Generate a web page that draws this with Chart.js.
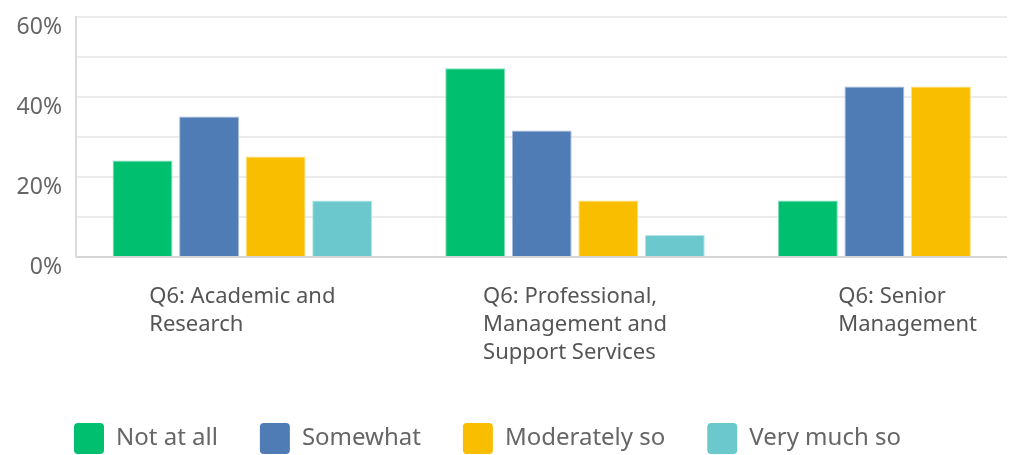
<!DOCTYPE html>
<html>
<head>
<meta charset="utf-8">
<script src="https://cdn.jsdelivr.net/npm/chart.js@4"></script>
<style>
	body { margin: 0; background: #fff; }
	#wrap { width: 1007px; height: 455px; overflow: hidden; }
</style>
</head>
<body>
<div id="wrap">
	<canvas id="q6Chart" width="1074" height="464"></canvas>
</div>
<script>
const categories = [
	['Q6: Academic and', 'Research'],
	['Q6: Professional,', 'Management and', 'Support Services'],
	['Q6: Senior', 'Management']
]
const seriesNames = ['Not at all', 'Somewhat', 'Moderately so', 'Very much so']
const notAtAll = [24.1, 47.2, 14.1]
const somewhat = [35.1, 31.6, 42.6]
const moderatelySo = [25.1, 14.1, 42.6]
const veryMuchSo = [14.1, 5.5, 0]
const yTicks = [0, 20, 40, 60]

const colors = ['#00BF6F', '#507CB6', '#F9BE00', '#6BC8CD']
const edges = ['#7fdfb7', '#a7bddb', '#fcde7f', '#b5e3e6']
const fontFamily = '"Noto Sans", "Open Sans", sans-serif'

// multi-line category labels, left aligned inside a block centred on the group
const categoryLabelPlugin = {
	id: 'categoryLabels',
	afterLayout(chart) {
		// legend starts under the plot, not at the canvas edge
		chart.legend.left += 32
	},
	afterDraw(chart) {
		const ctx = chart.ctx
		const xScale = chart.scales.x
		ctx.save()
		ctx.font = '22px ' + fontFamily
		ctx.fillStyle = '#555'
		ctx.textAlign = 'left'
		ctx.textBaseline = 'middle'
		categories.forEach((lines, i) => {
			const w = Math.max(...lines.map(l => ctx.measureText(l).width))
			const left = xScale.getPixelForValue(i) - w / 2
			lines.forEach((line, j) => {
				ctx.fillText(line, left, xScale.top + 40 + j * 28)
			})
		})
		ctx.restore()
	}
}

const seriesData = [notAtAll, somewhat, moderatelySo, veryMuchSo]

new Chart(document.getElementById('q6Chart'), {
	type: 'bar',
	data: {
		labels: categories,
		datasets: seriesNames.map((name, i) => ({
			label: name,
			data: seriesData[i],
			backgroundColor: colors[i],
			borderColor: edges[i],
			borderWidth: 1,
			categoryPercentage: 0.8,
			barPercentage: 0.9
		}))
	},
	options: {
		responsive: false,
		animation: false,
		layout: {
			padding: { top: 17, left: 0, right: 0, bottom: 0 }
		},
		scales: {
			x: {
				grid: { display: false },
				border: { display: true, color: '#d6d6d6', width: 2 },
				ticks: { display: false },
				afterFit: scale => { scale.height = 124 }
			},
			y: {
				min: 0,
				max: 60,
				grid: { color: '#ececec', lineWidth: 2, drawTicks: false },
				border: { display: true, color: '#dcdcdc', width: 2 },
				ticks: {
					stepSize: 10,
					padding: 14,
					labelOffset: 10,
					color: '#666',
					font: { family: fontFamily, size: 23 },
					callback: v => yTicks.includes(v) ? v + '%' : ''
				},
				afterFit: scale => {
					scale.width = 76
					scale.paddingTop = 0
					scale.paddingBottom = 0
				}
			}
		},
		plugins: {
			legend: {
				position: 'bottom',
				align: 'start',
				labels: {
					boxWidth: 30,
					boxHeight: 31,
					padding: 42,
					color: '#666',
					useBorderRadius: true,
					borderRadius: 4,
					font: { family: fontFamily, size: 24 },
					generateLabels: chart => chart.data.datasets.map((ds, i) => ({
						text: ds.label,
						fillStyle: ds.backgroundColor,
						strokeStyle: ds.backgroundColor,
						lineWidth: 0,
						borderRadius: 4,
						fontColor: '#666',
						datasetIndex: i
					}))
				}
			},
			tooltip: { enabled: false }
		}
	},
	plugins: [categoryLabelPlugin]
})
</script>
</body>
</html>
